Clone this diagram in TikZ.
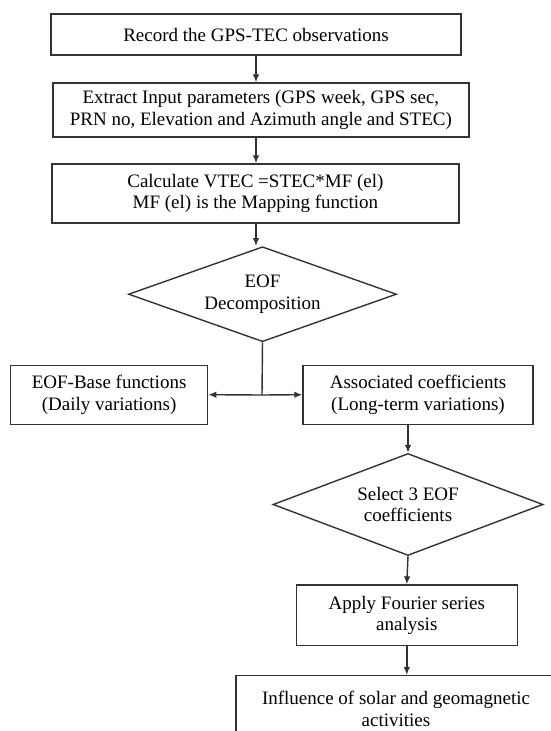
\documentclass[tikz,border=0pt]{standalone}
\usepackage{fontspec}
\setmainfont{Liberation Serif}
\usepackage{tikz}
\usetikzlibrary{arrows.meta,shapes.geometric}

\begin{document}
\begin{tikzpicture}[x=1pt, y=-1pt,
    box/.style={draw=black!80, line width=1.4pt, rectangle, align=center, inner sep=0pt, font=\fontsize{19}{21.5}\selectfont},
    decision/.style={draw=black!80, line width=1.4pt, diamond, aspect=2.7, align=center, inner sep=0pt, font=\fontsize{19}{21.5}\selectfont},
    flow/.style={-{Latex[length=8pt,width=6.5pt]}, draw=black!80, line width=1.4pt}]
  \clip (0,0) rectangle (551,731);
  \pgfmathsetmacro{\xmain}{256}

      \node[box, minimum width=410pt, minimum height=41pt] (rec) at (\xmain,34.5) {Record the GPS-TEC observations};
      \node[box, minimum width=416pt, minimum height=54pt] (ext) at (260.9,110) {Extract Input parameters (GPS week, GPS sec,\\PRN no, Elevation and Azimuth angle and STEC)};
      \node[box, minimum width=407pt, minimum height=59pt] (calc) at (255.4,193.5) {Calculate VTEC =STEC*MF (el)\\MF (el) is the Mapping function};
      \node[decision, minimum width=268pt, minimum height=95pt] (eof) at (262.5,294.2) {EOF\\Decomposition};

      \node[box, minimum width=197pt, minimum height=59pt] (base) at (109.1,394.7) {EOF-Base functions\\(Daily variations)};
      \node[box, minimum width=230pt, minimum height=59pt] (coef) at (418,394.7) {Associated coefficients\\(Long-term variations)};
      \node[decision, minimum width=270pt, minimum height=102pt] (sel) at (408,504.5) {Select 3 EOF\\coefficients};
      \node[box, minimum width=221pt, minimum height=60.5pt] (four) at (406.8,615.3) {Apply Fourier series\\analysis};
      \node[box, minimum width=320pt, minimum height=66pt] (infl) at (396,708.7) {Influence of solar and geomagnetic\\activities};

    \draw[flow] (rec.south) -- (rec.south |- ext.north);
    \draw[flow] (rec.south |- ext.south) -- (rec.south |- calc.north);
    \draw[flow] (rec.south |- calc.south) -- (rec.south |- eof.north);

    \coordinate (split) at (262,395);
    \draw[draw=black!80, line width=1.4pt] (eof.south) -- (split);
    \draw[flow] (split) -- (base.east);
    \draw[flow] (split) -- (coef.west);

    \draw[flow] (sel.north |- coef.south) -- (sel.north);
    \draw[flow] (sel.south) -- (four.north);
    \draw[flow] (four.south) -- (four.south |- infl.north);
  \end{tikzpicture}
\end{document}
